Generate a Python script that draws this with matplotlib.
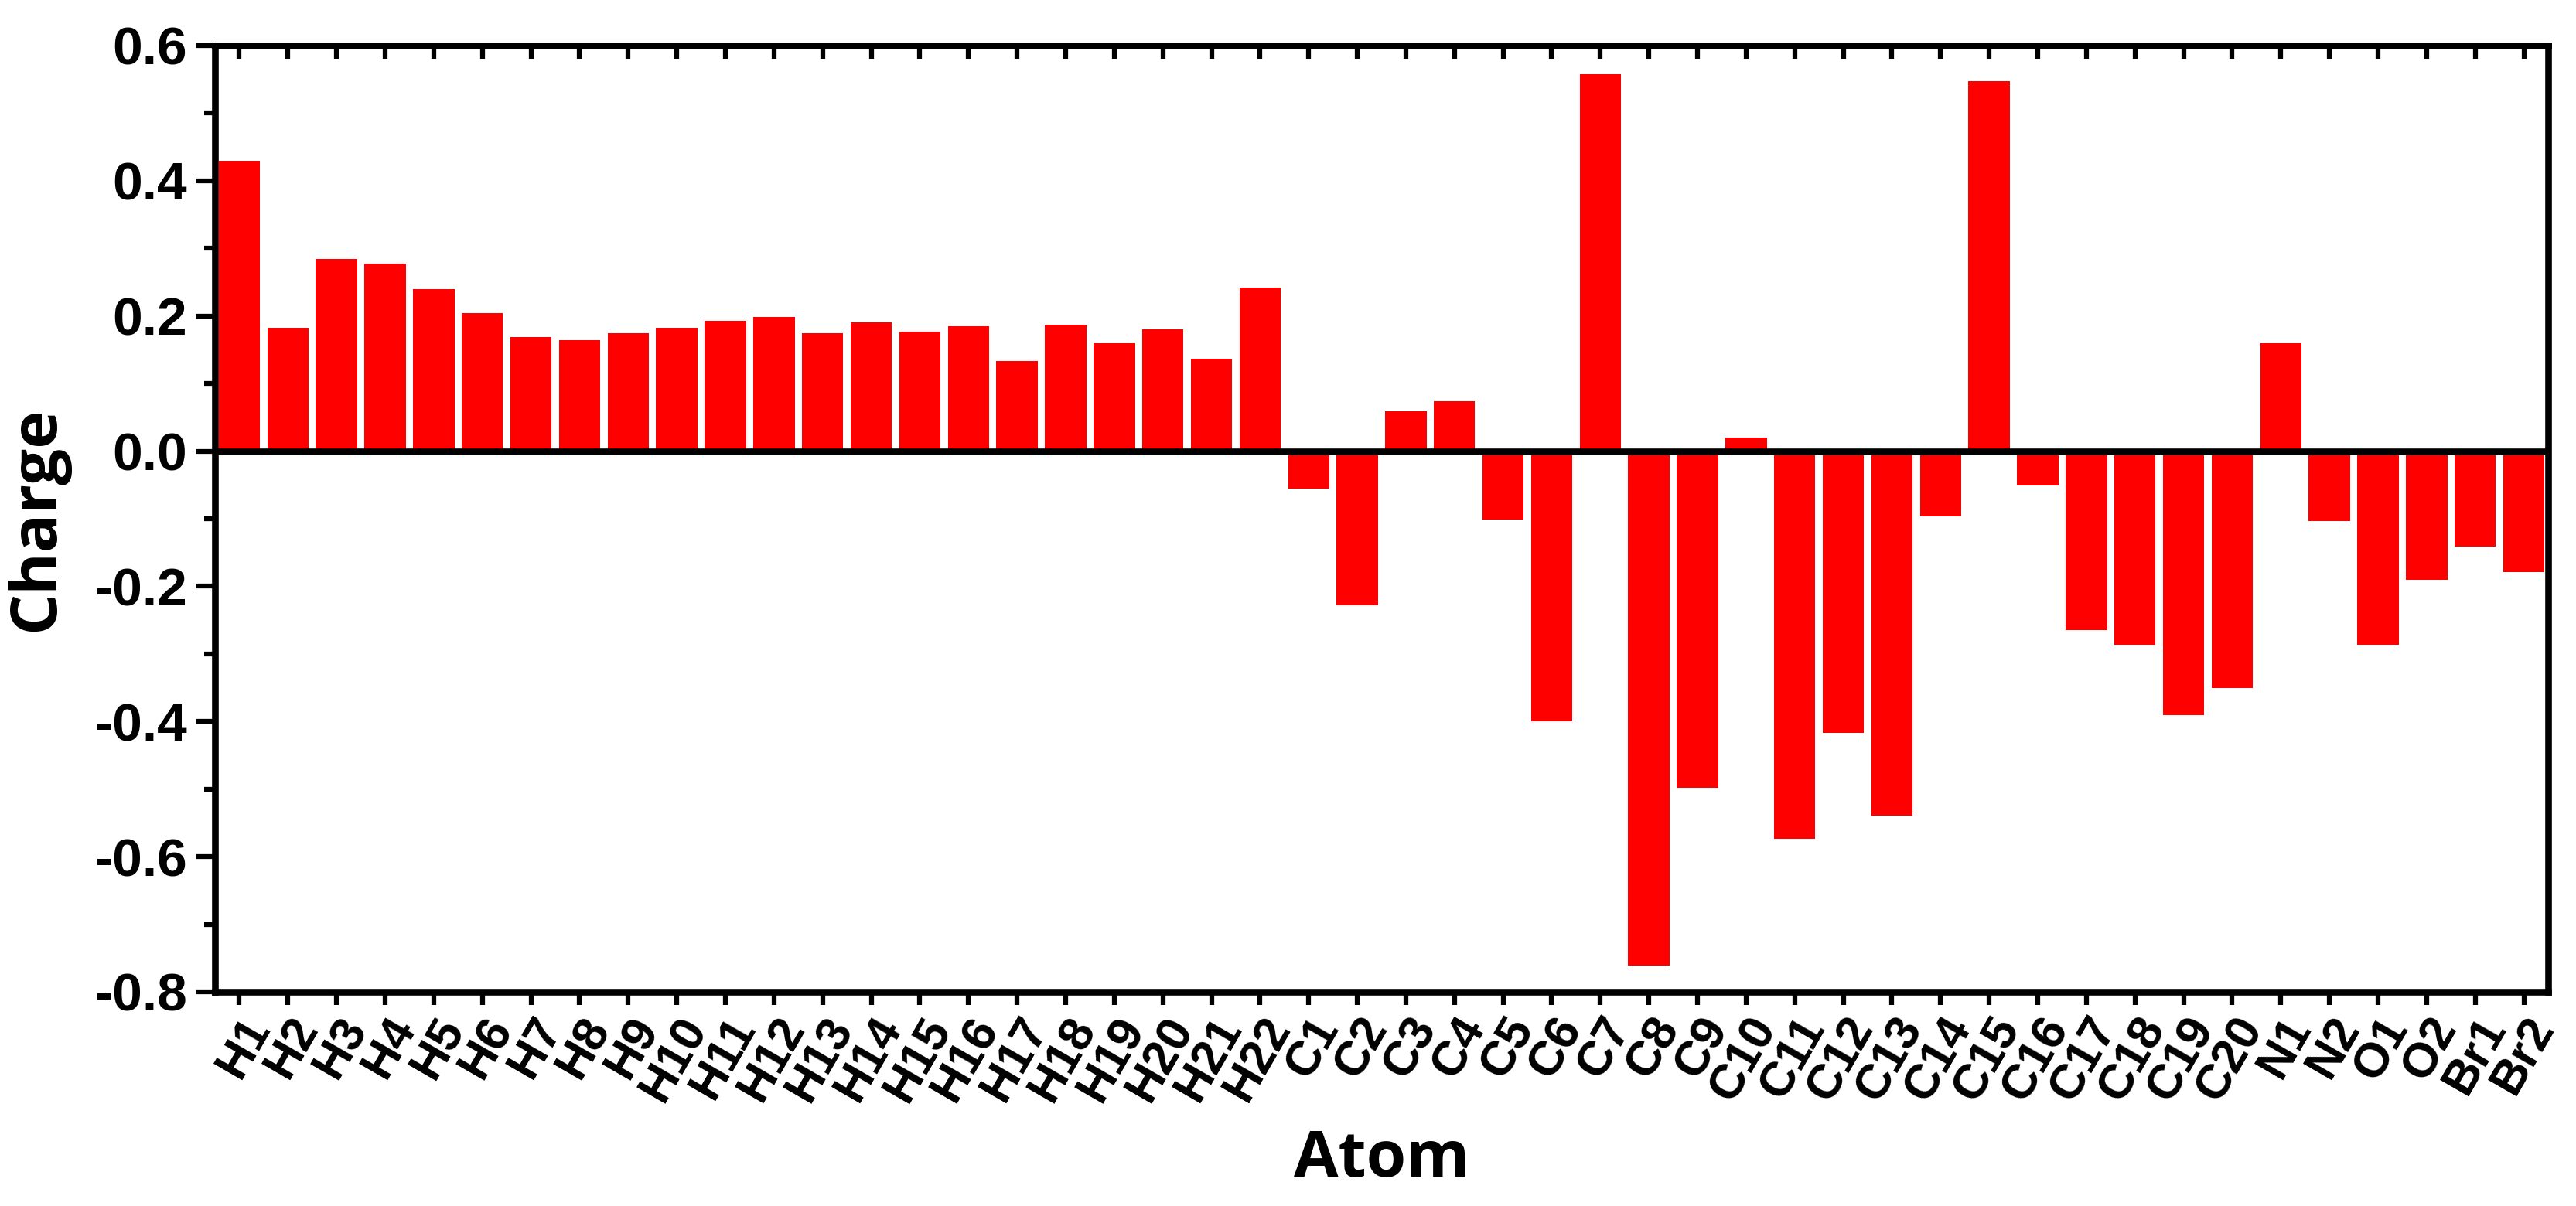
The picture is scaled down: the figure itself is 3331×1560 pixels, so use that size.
import matplotlib
matplotlib.use("Agg")
import matplotlib.pyplot as plt
from matplotlib.ticker import MultipleLocator, FixedLocator
import numpy as np

atoms = ["H1", "H2", "H3", "H4", "H5", "H6", "H7", "H8", "H9", "H10", "H11", "H12",
         "H13", "H14", "H15", "H16", "H17", "H18", "H19", "H20", "H21", "H22",
         "C1", "C2", "C3", "C4", "C5", "C6", "C7", "C8", "C9", "C10", "C11", "C12",
         "C13", "C14", "C15", "C16", "C17", "C18", "C19", "C20",
         "N1", "N2", "O1", "O2", "Br1", "Br2"]
charges = [0.430, 0.183, 0.284, 0.278, 0.240, 0.204, 0.169, 0.164, 0.175, 0.182,
           0.193, 0.198, 0.174, 0.190, 0.177, 0.185, 0.133, 0.187, 0.160, 0.180,
           0.137, 0.242,
           -0.055, -0.228, 0.059, 0.074, -0.101, -0.400, 0.558, -0.761, -0.498,
           0.020, -0.573, -0.417, -0.539, -0.097, 0.547, -0.051, -0.265, -0.287,
           -0.390, -0.351,
           0.160, -0.104, -0.286, -0.190, -0.141, -0.179]
y_ticks = [-0.8, -0.6, -0.4, -0.2, 0.0, 0.2, 0.4, 0.6]

tick_font = ["Liberation Sans Narrow", "Liberation Sans", "DejaVu Sans"]
label_font = ["Open Sans", "DejaVu Sans"]

fig = plt.figure(figsize=(33.31, 15.60), dpi=100)
ax = fig.add_axes([278/3331, 1 - 1283/1560, (3295-278)/3331, (1283-59)/1560])

x = np.arange(len(atoms))
ax.bar(x, charges, width=0.85, color="#FF0000", edgecolor="none", zorder=2)
ax.axhline(0, color="black", lw=6.2, zorder=3)

ax.set_xlim(-0.5, len(atoms) - 0.5)
ax.set_ylim(-0.8, 0.6)
ax.set_xticks(x)
ax.set_xticklabels(atoms, rotation=60, ha="right", va="top",
                   rotation_mode="anchor", fontsize=45, fontweight="bold",
                   family=tick_font)
ax.yaxis.set_major_locator(FixedLocator(y_ticks))
ax.yaxis.set_minor_locator(MultipleLocator(0.1))
ax.set_yticklabels([f"{v:.1f}" for v in y_ticks], fontsize=50,
                   fontweight="bold", family=tick_font)

for s in ax.spines.values():
    s.set_linewidth(6.2)
    s.set_zorder(4)

ax.tick_params(axis="x", which="major", direction="out", length=12, width=4.5,
               bottom=True, top=False, pad=4)
ax.tick_params(axis="y", which="major", direction="out", length=18, width=4.5,
               left=True, right=False, pad=8)
ax.tick_params(axis="y", which="minor", direction="out", length=10, width=4.5,
               left=True, right=False)

# inward ticks on the top edge
ax_top = ax.secondary_xaxis("top")
ax_top.set_xticks(x)
ax_top.tick_params(axis="x", direction="in", length=12, width=4.5, labeltop=False)
ax_top.spines["top"].set_linewidth(6.2)

ax.set_xlabel("Atom", fontsize=60, fontweight="bold", family=label_font, labelpad=18)
ax.set_ylabel("Charge", fontsize=60, fontweight="bold", family=label_font, labelpad=24)

fig.savefig("out.png", dpi=100, facecolor="white")
